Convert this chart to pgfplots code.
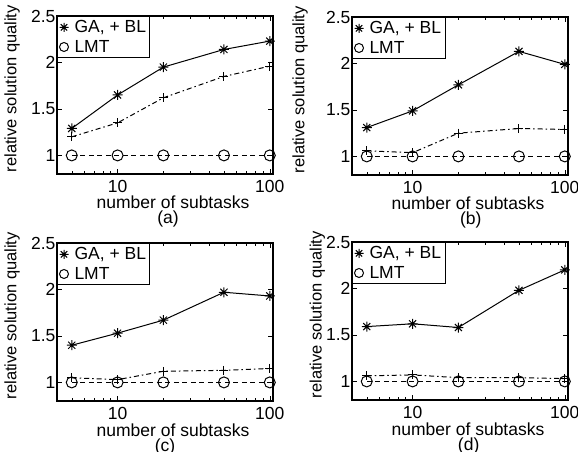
\documentclass[border=0pt]{standalone}
\usepackage{fontspec}
\setmainfont{Liberation Sans}
\usepackage{pgfplots}
\pgfplotsset{compat=1.18}

% MATLAB style '*' marker: plus and cross together
\pgfdeclareplotmark{mstar}{%
  \pgfpathmoveto{\pgfqpoint{0pt}{\pgfplotmarksize}}%
  \pgfpathlineto{\pgfqpoint{0pt}{-\pgfplotmarksize}}%
  \pgfpathmoveto{\pgfqpoint{\pgfplotmarksize}{0pt}}%
  \pgfpathlineto{\pgfqpoint{-\pgfplotmarksize}{0pt}}%
  \pgfpathmoveto{\pgfqpoint{.707\pgfplotmarksize}{.707\pgfplotmarksize}}%
  \pgfpathlineto{\pgfqpoint{-.707\pgfplotmarksize}{-.707\pgfplotmarksize}}%
  \pgfpathmoveto{\pgfqpoint{-.707\pgfplotmarksize}{.707\pgfplotmarksize}}%
  \pgfpathlineto{\pgfqpoint{.707\pgfplotmarksize}{-.707\pgfplotmarksize}}%
  \pgfusepathqstroke}

\newcommand\lbl{\fontsize{17.5}{19}\selectfont}

\pgfplotsset{every axis/.append style={
    scale only axis, width=216pt, height=158pt,
    xmin=4, xmax=105, ymin=0.8, ymax=2.5,
    xtick={10,100}, xticklabels={10,100},
    ytick={1,1.5,2,2.5}, yticklabels={1,1.5,2,2.5},
    minor xtick={4,5,6,7,8,9,20,30,40,50,60,70,80,90},
    tick align=inside, major tick length=5pt, minor tick length=3pt,
    tick style={line width=0.5pt, black},
    axis line style={line width=1.2pt},
    ticklabel style={font=\lbl},
    xticklabel style={yshift=-3pt},
    yticklabel style={xshift=2pt},
    xlabel style={font=\lbl, at={(axis description cs:0.537,0)}, anchor=base, yshift=-35pt},
    ylabel style={font=\fontsize{16.5}{18}\selectfont, anchor=center},
    legend style={at={(0,1)}, anchor=north west, draw=black, line width=1pt,
      font=\lbl, inner xsep=2pt, inner ysep=2pt, row sep=2pt, cells={anchor=west},
      /tikz/every odd column/.append style={column sep=4pt}},
    clip=false,
}}

\begin{document}
\begin{tikzpicture}
\path[use as bounding box] (0,0) rectangle (578pt,452pt);

% (a)
\begin{semilogxaxis}[anchor=south west, at={(57pt,278pt)},
  xlabel={number of subtasks}, ylabel={relative solution quality},
  ylabel style={at={(axis description cs:-0.208,0.54)}}]
\addlegendimage{only marks, mark=mstar, mark size=4.5pt}
\addlegendentry{GA, + BL}
\addlegendimage{only marks, mark=o, mark size=4.5pt}
\addlegendentry{LMT}
\addplot[forget plot, black, line width=1pt, mark=mstar, mark size=5pt, mark options={solid}]
  coordinates {(5,1.29)(10,1.65)(20,1.95)(50,2.14)(100,2.23)};
\addplot[forget plot, black, line width=1pt, dash pattern=on 5pt off 3pt on 1.5pt off 3pt, mark=+, mark size=4.5pt, mark options={solid}]
  coordinates {(5,1.20)(10,1.35)(20,1.62)(50,1.85)(100,1.96)};
\addplot[forget plot, black, line width=1pt, dash pattern=on 5pt off 3.5pt, mark=o, mark size=5.5pt, mark options={solid}]
  coordinates {(5,1)(10,1)(20,1)(50,1)(100,1)};
\node[font=\lbl, anchor=base, yshift=-50pt] at (axis description cs:0.514,0) {(a)};
\end{semilogxaxis}

% (b)
\begin{semilogxaxis}[anchor=south west, at={(352pt,277pt)},
  xlabel={number of subtasks}, ylabel={relative solution quality},
  ylabel style={at={(axis description cs:-0.24,0.54)}}]
\addlegendimage{only marks, mark=mstar, mark size=4.5pt}
\addlegendentry{GA, + BL}
\addlegendimage{only marks, mark=o, mark size=4.5pt}
\addlegendentry{LMT}
\addplot[forget plot, black, line width=1pt, mark=mstar, mark size=5pt, mark options={solid}]
  coordinates {(5,1.31)(10,1.49)(20,1.77)(50,2.13)(100,1.99)};
\addplot[forget plot, black, line width=1pt, dash pattern=on 5pt off 3pt on 1.5pt off 3pt, mark=+, mark size=4.5pt, mark options={solid}]
  coordinates {(5,1.06)(10,1.04)(20,1.25)(50,1.30)(100,1.29)};
\addplot[forget plot, black, line width=1pt, dash pattern=on 5pt off 3.5pt, mark=o, mark size=5.5pt, mark options={solid}]
  coordinates {(5,1)(10,1)(20,1)(50,1)(100,1)};
\node[font=\lbl, anchor=base, yshift=-50pt] at (axis description cs:0.55,0) {(b)};
\end{semilogxaxis}

% (c)
\begin{semilogxaxis}[anchor=south west, at={(57pt,51pt)},
  xlabel={number of subtasks}, ylabel={relative solution quality},
  ylabel style={at={(axis description cs:-0.208,0.54)}}]
\addlegendimage{only marks, mark=mstar, mark size=4.5pt}
\addlegendentry{GA, + BL}
\addlegendimage{only marks, mark=o, mark size=4.5pt}
\addlegendentry{LMT}
\addplot[forget plot, black, line width=1pt, mark=mstar, mark size=5pt, mark options={solid}]
  coordinates {(5,1.40)(10,1.53)(20,1.67)(50,1.97)(100,1.93)};
\addplot[forget plot, black, line width=1pt, dash pattern=on 5pt off 3pt on 1.5pt off 3pt, mark=+, mark size=4.5pt, mark options={solid}]
  coordinates {(5,1.05)(10,1.03)(20,1.12)(50,1.13)(100,1.15)};
\addplot[forget plot, black, line width=1pt, dash pattern=on 5pt off 3.5pt, mark=o, mark size=5.5pt, mark options={solid}]
  coordinates {(5,1)(10,1)(20,1)(50,1)(100,1)};
\node[font=\lbl, anchor=base, yshift=-50pt] at (axis description cs:0.5,0) {(c)};
\end{semilogxaxis}

% (d)
\begin{semilogxaxis}[anchor=south west, at={(352pt,52pt)},
  xlabel={number of subtasks}, ylabel={relative solution quality},
  ylabel style={at={(axis description cs:-0.16,0.54)}}]
\addlegendimage{only marks, mark=mstar, mark size=4.5pt}
\addlegendentry{GA, + BL}
\addlegendimage{only marks, mark=o, mark size=4.5pt}
\addlegendentry{LMT}
\addplot[forget plot, black, line width=1pt, mark=mstar, mark size=5pt, mark options={solid}]
  coordinates {(5,1.59)(10,1.62)(20,1.58)(50,1.98)(100,2.20)};
\addplot[forget plot, black, line width=1pt, dash pattern=on 5pt off 3pt on 1.5pt off 3pt, mark=+, mark size=4.5pt, mark options={solid}]
  coordinates {(5,1.06)(10,1.07)(20,1.04)(50,1.04)(100,1.03)};
\addplot[forget plot, black, line width=1pt, dash pattern=on 5pt off 3.5pt, mark=o, mark size=5.5pt, mark options={solid}]
  coordinates {(5,1)(10,1)(20,1)(50,1)(100,1)};
\node[font=\lbl, anchor=base, yshift=-50pt] at (axis description cs:0.54,0) {(d)};
\end{semilogxaxis}
\end{tikzpicture}
\end{document}
